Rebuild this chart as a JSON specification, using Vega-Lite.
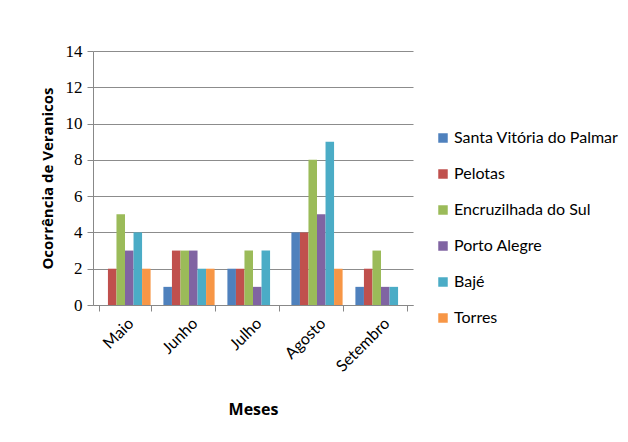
{
  "$schema": "https://vega.github.io/schema/vega-lite/v6.json",
  "width": 320,
  "height": 254,
  "autosize": {"type": "none"},
  "padding": {"left": 93, "top": 51, "right": 215, "bottom": 137},
  "background": "white",
  "config": {
    "view": {"stroke": null},
    "font": "Lato"
  },
  "data": {
    "values": [
      {"mes": "Maio", "local": "Santa Vitória do Palmar", "n": 0},
      {"mes": "Maio", "local": "Pelotas", "n": 2},
      {"mes": "Maio", "local": "Encruzilhada do Sul", "n": 5},
      {"mes": "Maio", "local": "Porto Alegre", "n": 3},
      {"mes": "Maio", "local": "Bajé", "n": 4},
      {"mes": "Maio", "local": "Torres", "n": 2},
      {"mes": "Junho", "local": "Santa Vitória do Palmar", "n": 1},
      {"mes": "Junho", "local": "Pelotas", "n": 3},
      {"mes": "Junho", "local": "Encruzilhada do Sul", "n": 3},
      {"mes": "Junho", "local": "Porto Alegre", "n": 3},
      {"mes": "Junho", "local": "Bajé", "n": 2},
      {"mes": "Junho", "local": "Torres", "n": 2},
      {"mes": "Julho", "local": "Santa Vitória do Palmar", "n": 2},
      {"mes": "Julho", "local": "Pelotas", "n": 2},
      {"mes": "Julho", "local": "Encruzilhada do Sul", "n": 3},
      {"mes": "Julho", "local": "Porto Alegre", "n": 1},
      {"mes": "Julho", "local": "Bajé", "n": 3},
      {"mes": "Julho", "local": "Torres", "n": 0},
      {"mes": "Agosto", "local": "Santa Vitória do Palmar", "n": 4},
      {"mes": "Agosto", "local": "Pelotas", "n": 4},
      {"mes": "Agosto", "local": "Encruzilhada do Sul", "n": 8},
      {"mes": "Agosto", "local": "Porto Alegre", "n": 5},
      {"mes": "Agosto", "local": "Bajé", "n": 9},
      {"mes": "Agosto", "local": "Torres", "n": 2},
      {"mes": "Setembro", "local": "Santa Vitória do Palmar", "n": 1},
      {"mes": "Setembro", "local": "Pelotas", "n": 2},
      {"mes": "Setembro", "local": "Encruzilhada do Sul", "n": 3},
      {"mes": "Setembro", "local": "Porto Alegre", "n": 1},
      {"mes": "Setembro", "local": "Bajé", "n": 1},
      {"mes": "Setembro", "local": "Torres", "n": 0}
    ]
  },
  "mark": {"type": "bar"},
  "encoding": {
    "x": {
      "field": "mes",
      "type": "nominal",
      "sort": ["Maio", "Junho", "Julho", "Agosto", "Setembro"],
      "scale": {"paddingInner": 0.2, "paddingOuter": 0.1},
      "axis": {
        "title": "Meses",
        "titleFont": "Open Sans",
        "titleFontSize": 16,
        "titleFontWeight": "bold",
        "titleColor": "#000",
        "titlePadding": 27,
        "labelAngle": -45,
        "labelFont": "Lato",
        "labelFontSize": 16,
        "labelColor": "#000",
        "labelPadding": 4,
        "tickBand": "extent",
        "tickColor": "#888",
        "tickSize": 6,
        "domainColor": "#888",
        "grid": false
      }
    },
    "xOffset": {
      "field": "local",
      "type": "nominal",
      "sort": ["Santa Vitória do Palmar", "Pelotas", "Encruzilhada do Sul", "Porto Alegre", "Bajé", "Torres"],
      "scale": {"paddingInner": 0, "paddingOuter": 0}
    },
    "y": {
      "field": "n",
      "type": "quantitative",
      "scale": {"domain": [0, 14], "nice": false},
      "axis": {
        "title": "Ocorrência de Veranicos",
        "titleFont": "Open Sans",
        "titleFontSize": 15,
        "titleFontWeight": "bold",
        "titleColor": "#000",
        "titlePadding": 10,
        "values": [0, 2, 4, 6, 8, 10, 12, 14],
        "labelFont": "Times New Roman, Liberation Serif, serif",
        "labelFontSize": 17,
        "labelColor": "#000",
        "labelPadding": 5,
        "tickColor": "#888",
        "tickSize": 6,
        "domainColor": "#888",
        "gridColor": "#8c8c8c",
        "gridWidth": 1.2
      }
    },
    "color": {
      "field": "local",
      "type": "nominal",
      "sort": ["Santa Vitória do Palmar", "Pelotas", "Encruzilhada do Sul", "Porto Alegre", "Bajé", "Torres"],
      "scale": {
        "domain": ["Santa Vitória do Palmar", "Pelotas", "Encruzilhada do Sul", "Porto Alegre", "Bajé", "Torres"],
        "range": ["#4F81BD", "#C0504D", "#9BBB59", "#8064A2", "#4BACC6", "#F79646"]
      },
      "legend": {
        "title": null,
        "orient": "none",
        "legendX": 342,
        "legendY": 79,
        "symbolType": "square",
        "symbolSize": 90,
        "symbolStrokeWidth": 0,
        "labelFont": "Lato",
        "labelFontSize": 16,
        "labelColor": "#000",
        "labelOffset": 3,
        "rowPadding": 20,
        "labelLimit": 300
      }
    }
  }
}
